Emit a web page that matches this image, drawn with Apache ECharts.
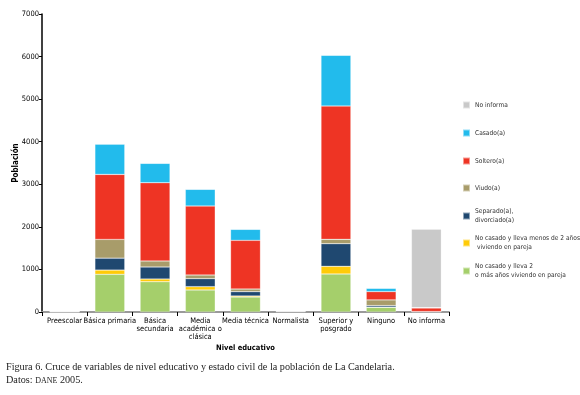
<!DOCTYPE html>
<html>
<head>
<meta charset="utf-8">
<script src="https://cdn.jsdelivr.net/npm/echarts@6/dist/echarts.min.js"></script>
<style>
  html, body { margin: 0; padding: 0; background: #fff; }
  #chart { width: 580px; height: 395px; }
</style>
</head>
<body>
<div id="chart"></div>
<script>
const categories = ['Preescolar', 'Básica primaria', 'Básica\nsecundaria', 'Media\nacadémica o\nclásica',
    'Media técnica', 'Normalista', 'Superior y\nposgrado', 'Ninguno', 'No informa']

// stacked bottom to top
const dosOMasAnos = [5, 885, 712, 517, 352, 10, 893, 110, 10]
const menosDosAnos = [0, 100, 63, 78, 24, 2, 180, 5, 0]
const separado = [6, 280, 282, 188, 102, 8, 532, 35, 0]
const viudo = [0, 440, 141, 86, 62, 2, 102, 134, 0]
const soltero = [5, 1527, 1839, 1621, 1143, 10, 3132, 195, 85]
const casado = [5, 712, 455, 392, 259, 12, 1191, 79, 8]
const noInforma = [0, 0, 0, 0, 0, 0, 0, 0, 1840]

const yTicks = [0, 1000, 2000, 3000, 4000, 5000, 6000, 7000]

const narrow = '"DejaVu Sans Condensed", sans-serif'

const seriesDefs = [
    { name: 'No casado y lleva 2\no más años viviendo en pareja', data: dosOMasAnos, color: '#a5cf6b', legendY: 271 },
    { name: 'No casado y lleva menos de 2 años\n viviendo en pareja', data: menosDosAnos, color: '#ffcb08', legendY: 243 },
    { name: 'Separado(a),\ndivorciado(a)', data: separado, color: '#1f4870', legendY: 216 },
    { name: 'Viudo(a)', data: viudo, color: '#a89c6a', legendY: 188 },
    { name: 'Soltero(a)', data: soltero, color: '#ee3424', legendY: 161 },
    { name: 'Casado(a)', data: casado, color: '#22bbec', legendY: 133 },
    { name: 'No informa', data: noInforma, color: '#c9c9c9', legendY: 105 }
]

const chart = echarts.init(document.getElementById('chart'))

const legends = seriesDefs.map(s => {
    const lines = s.name.split('\n').length
    const h = lines * 9
    return {
        data: [s.name],
        left: 462,
        top: s.legendY - h / 2,
        orient: 'vertical',
        padding: 0,
        itemWidth: 7,
        itemHeight: 7,
        itemGap: 5,
        icon: 'rect',
        selectedMode: false,
        textStyle: {
            fontFamily: narrow,
            fontSize: 6.6,
            lineHeight: 9,
            color: '#333'
        }
    }
})

chart.setOption({
    animation: false,
    backgroundColor: '#fff',
    title: {
        text: 'Figura 6. Cruce de variables de nivel educativo y estado civil de la población de La Candelaria.\n{n|Datos: }{sc|DANE}{n| 2005.}',
        left: 6,
        top: 361,
        padding: 0,
        textStyle: {
            fontFamily: '"Liberation Serif", "DejaVu Serif", serif',
            fontSize: 10.2,
            fontWeight: 'normal',
            lineHeight: 13,
            color: '#222',
            rich: {
                n: { fontFamily: '"Liberation Serif", serif', fontSize: 10.2, color: '#222' },
                sc: { fontFamily: '"Liberation Serif", serif', fontSize: 8, color: '#222' }
            }
        }
    },
    legend: legends,
    grid: {
        left: 42,
        right: 131,
        top: 14,
        bottom: 83,
        outerBoundsMode: 'none'
    },
    xAxis: {
        type: 'category',
        data: categories,
        name: 'Nivel educativo',
        nameLocation: 'middle',
        nameGap: 32,
        nameMoveOverlap: false,
        nameTextStyle: {
            fontFamily: narrow,
            fontSize: 7.5,
            fontWeight: 'bold',
            color: '#000'
        },
        axisLine: { lineStyle: { color: '#9a9a9a', width: 2 } },
        axisTick: { show: true, length: 4, lineStyle: { color: '#000' } },
        axisLabel: {
            fontFamily: narrow,
            fontSize: 7.5,
            lineHeight: 8,
            color: '#000',
            interval: 0,
            margin: 5
        }
    },
    yAxis: {
        type: 'value',
        min: 0,
        max: yTicks[yTicks.length - 1],
        interval: 1000,
        name: 'Población',
        nameLocation: 'middle',
        nameGap: 22,
        nameMoveOverlap: false,
        nameTextStyle: {
            fontFamily: narrow,
            fontSize: 8,
            fontWeight: 'bold',
            color: '#000'
        },
        splitLine: { show: false },
        axisLine: { show: true, lineStyle: { color: '#000', width: 1.5 } },
        axisTick: { show: true, length: 3, lineStyle: { color: '#000' } },
        axisLabel: {
            fontFamily: narrow,
            fontSize: 7.5,
            color: '#000',
            margin: 3,
            formatter: v => String(v)
        }
    },
    series: seriesDefs.map(s => ({
        name: s.name,
        type: 'bar',
        stack: 'total',
        data: s.data,
        barWidth: '66%',
        itemStyle: {
            color: s.color,
            borderColor: 'rgba(255,255,255,0.5)',
            borderWidth: 0.5
        }
    }))
})
</script>
</body>
</html>
